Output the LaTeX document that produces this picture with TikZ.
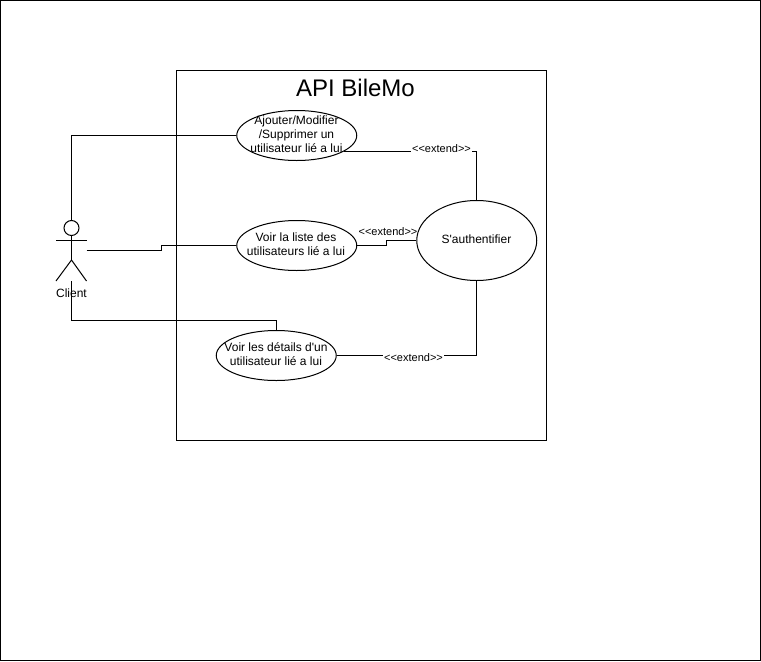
\documentclass[tikz,border=0pt]{standalone}
\usepackage{fontspec}
\newfontfamily\plainf{Liberation Sans}
\usetikzlibrary{shapes.geometric,calc}
\tikzset{
  line/.style={draw=black,line width=0.75pt},
  usecase/.style={line,shape=ellipse,fill=white,inner sep=0pt,minimum width=90pt,minimum height=37.5pt},
  casetext/.style={font=\plainf\fontsize{9}{10.5}\selectfont,align=center,inner sep=0pt},
  extlabel/.style={font=\plainf\fontsize{8.25}{9.5}\selectfont,fill=white,inner sep=0.5pt},
}
\begin{document}
\begin{tikzpicture}[x=0.75pt,y=-0.75pt]
\useasboundingbox (0,0) rectangle (761,661);
\node[line,rectangle,minimum width=759.5*0.75pt,minimum height=659.5*0.75pt,inner sep=0pt] (page) at (380.5,330.5) {};
\node[line,rectangle,minimum width=277.5pt,minimum height=277.5pt,inner sep=0pt] (system) at (361.5,255.5) {};
\node[font=\plainf\fontsize{18}{21}\selectfont,inner sep=0pt] (title) at (355.5,87.5) {API BileMo};

% actor
\node[line,shape=circle,minimum size=11.25pt,inner sep=0pt] (head) at (71.5,228) {};
\coordinate (armL) at (56,240.5);
\coordinate (armR) at (86.5,240.5);
\coordinate (hip) at (71.5,260);
\coordinate (footL) at (56,281);
\coordinate (footR) at (86.5,281);
\coordinate (handle) at (86.5,250.5);
\coordinate (foot) at (71.5,281);
\coordinate (kinkA) at (161.5,245.5);
\coordinate (kinkB) at (386.5,245.5);
\coordinate (route) at (71.5,320.5);

% use cases
\node[usecase] (ua) at (296.75,135.5) {};
\node[usecase] (ub) at (296.75,245.5) {};
\node[usecase] (uc) at (276.25,355.5) {};
\node[usecase,minimum height=60pt] (auth) at (476.75,240.5) {};

% actor drawing
\draw[line] (head.south) -- (hip);
\draw[line] (armL) -- (armR);
\draw[line] (footL) -- (hip) -- (footR);

% actor connectors
\draw[line] (head.north) |- (ua.west);
\draw[line] (handle) -- (handle -| kinkA) -- (kinkA) -- (ub.west);
\draw[line] (foot) -- (route) -- (route -| uc.north) -- (uc.north);

% extend connectors
\draw[line] (ua.-19) -| (auth.north);
\draw[line] (ub.east) -- (ub.east -| kinkB) -- (kinkB |- auth.west) -- (auth.west);
\draw[line] (uc.east) -| (auth.south);

% labels
\node[casetext] (ta) at (296.5,134.5) {Ajouter/Modifier\\/Supprimer un\\utilisateur lié a lui};
\node[casetext] (tb) at (296,244.5) {Voir la liste des\\utilisateurs lié a lui};
\node[casetext] (tc) at (276,354.5) {Voir les détails d'un\\utilisateur lié a lui};
\node[casetext] (tauth) at (476.5,239) {S'authentifier};
\node[font=\plainf\fontsize{9}{10.5}\selectfont,inner sep=0pt] (client) at (71.5,293) {Client};
\node[extlabel] (la) at (441.5,148.5) {<{}<extend>{}>};
\node[extlabel,fill=none] (lb) at (388,231.5) {<{}<extend>{}>};
\node[extlabel] (lc) at (413.5,357.5) {<{}<extend>{}>};
\end{tikzpicture}
\end{document}
